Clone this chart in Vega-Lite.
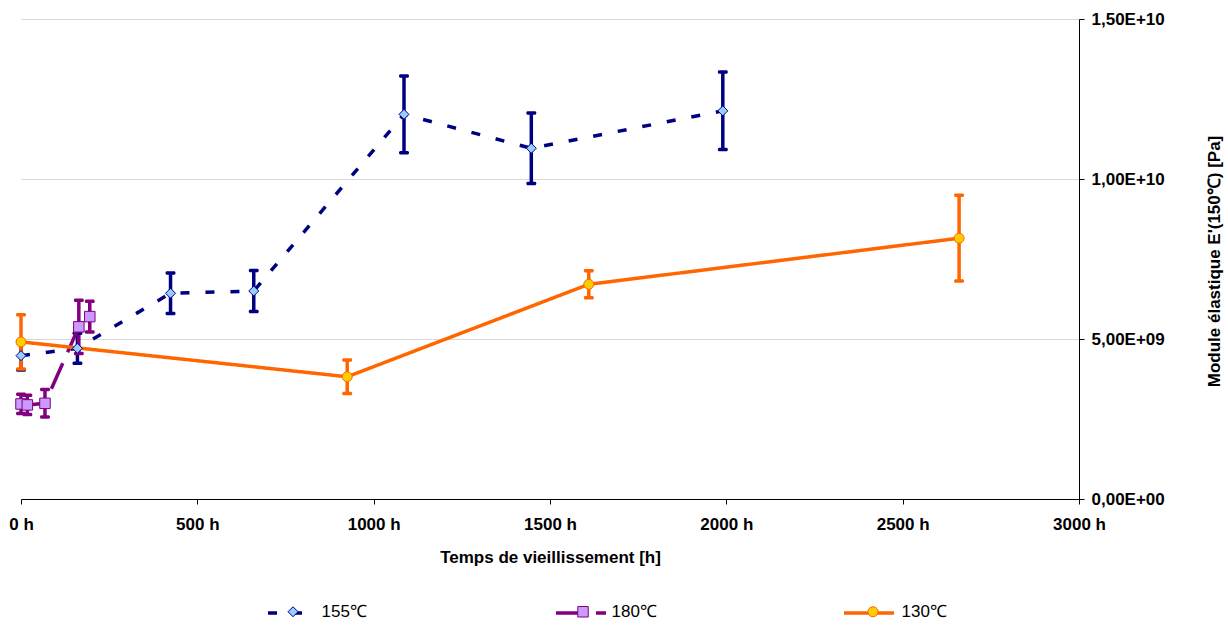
{
  "$schema": "https://vega.github.io/schema/vega-lite/v6.json",
  "width": 1058,
  "height": 480,
  "autosize": {"type": "none"},
  "padding": {"left": 21, "top": 19, "right": 149, "bottom": 127},
  "config": {"view": {"stroke": null}, "font": "Liberation Sans", "background": "white"},
  "data": {
    "values": [
      {"series": "155℃", "h": 0, "E": 4480000000, "lo": 4030000000, "hi": 4930000000},
      {"series": "155℃", "h": 160, "E": 4710000000, "lo": 4240000000, "hi": 5180000000},
      {"series": "155℃", "h": 424, "E": 6430000000, "lo": 5800000000, "hi": 7060000000},
      {"series": "155℃", "h": 660, "E": 6500000000, "lo": 5860000000, "hi": 7140000000},
      {"series": "155℃", "h": 1086, "E": 12020000000, "lo": 10820000000, "hi": 13220000000},
      {"series": "155℃", "h": 1447, "E": 10960000000, "lo": 9860000000, "hi": 12060000000},
      {"series": "155℃", "h": 1990, "E": 12130000000, "lo": 10920000000, "hi": 13340000000},
      {"series": "180℃", "h": 0, "E": 2970000000, "lo": 2670000000, "hi": 3270000000},
      {"series": "180℃", "h": 18, "E": 2940000000, "lo": 2640000000, "hi": 3240000000},
      {"series": "180℃", "h": 68, "E": 2990000000, "lo": 2560000000, "hi": 3420000000},
      {"series": "180℃", "h": 164, "E": 5380000000, "lo": 4550000000, "hi": 6210000000},
      {"series": "180℃", "h": 195, "E": 5700000000, "lo": 5220000000, "hi": 6180000000},
      {"series": "130℃", "h": 0, "E": 4910000000, "lo": 4060000000, "hi": 5760000000},
      {"series": "130℃", "h": 925, "E": 3820000000, "lo": 3300000000, "hi": 4340000000},
      {"series": "130℃", "h": 1610, "E": 6710000000, "lo": 6290000000, "hi": 7130000000},
      {"series": "130℃", "h": 2660, "E": 8150000000, "lo": 6810000000, "hi": 9490000000}
    ]
  },
  "encoding": {
    "x": {
      "field": "h", "type": "quantitative",
      "scale": {"domain": [0, 3000], "nice": false},
      "axis": {
        "orient": "bottom", "grid": false, "values": [0, 500, 1000, 1500, 2000, 2500, 3000],
        "labelExpr": "datum.value + ' h'", "labelFlush": false, "labelOverlap": false,
        "domainColor": "#000000", "tickColor": "#000000", "tickSize": 5, "labelPadding": 12,
        "labelFont": "Liberation Sans", "labelFontSize": 17, "labelFontWeight": "bold", "labelColor": "#000000",
        "title": "Temps de vieillissement [h]", "titleFont": "Liberation Sans", "titleFontSize": 17,
        "titleFontWeight": "bold", "titleColor": "#000000", "titleX": 529, "titleY": 58,
        "titleAlign": "center", "titleBaseline": "middle"
      }
    },
    "y": {
      "type": "quantitative",
      "scale": {"domain": [0, 15000000000], "nice": false, "zero": true},
      "axis": {
        "orient": "right", "grid": true, "gridColor": "#d9d9d9", "values": [0, 5000000000, 10000000000, 15000000000],
        "labelExpr": "datum.value == 0 ? '0,00E+00' : replace(format(datum.value / pow(10, floor(log(datum.value) / LN10 + 1e-9)), '.2f'), '.', ',') + 'E+' + (floor(log(datum.value) / LN10 + 1e-9) < 10 ? '0' : '') + floor(log(datum.value) / LN10 + 1e-9)",
        "domainColor": "#000000", "tickColor": "#000000", "tickSize": 5, "labelPadding": 7,
        "labelFont": "Liberation Sans", "labelFontSize": 17, "labelFontWeight": "bold", "labelColor": "#000000",
        "title": "Module élastique E'(150℃) [Pa]", "titleFont": "Liberation Sans", "titleFontSize": 17,
        "titleFontWeight": "bold", "titleColor": "#000000", "titleAngle": 270, "titleX": 135, "titleY": 242,
        "titleAlign": "center", "titleBaseline": "middle"
      }
    }
  },
  "layer": [
    {
      "mark": {"type": "rule", "strokeWidth": 3.5},
      "encoding": {
        "y": {"field": "lo", "type": "quantitative"},
        "y2": {"field": "hi"},
        "color": {"field": "series", "type": "nominal", "scale": {"domain": ["155℃", "180℃", "130℃"], "range": ["#000080", "#800080", "#FF6600"]}}
      }
    },
    {
      "mark": {"type": "tick", "orient": "horizontal", "size": 10, "thickness": 3.5, "cornerRadius": 1.5, "opacity": 1},
      "encoding": {
        "y": {"field": "lo", "type": "quantitative"},
        "color": {"field": "series", "type": "nominal", "scale": {"domain": ["155℃", "180℃", "130℃"], "range": ["#000080", "#800080", "#FF6600"]}}
      }
    },
    {
      "mark": {"type": "tick", "orient": "horizontal", "size": 10, "thickness": 3.5, "cornerRadius": 1.5, "opacity": 1},
      "encoding": {
        "y": {"field": "hi", "type": "quantitative"},
        "color": {"field": "series", "type": "nominal", "scale": {"domain": ["155℃", "180℃", "130℃"], "range": ["#000080", "#800080", "#FF6600"]}}
      }
    },
    {
      "mark": {"type": "line", "strokeWidth": 3.5},
      "encoding": {
        "y": {"field": "E", "type": "quantitative"},
        "color": {
          "field": "series", "type": "nominal",
          "scale": {"domain": ["155℃", "180℃", "130℃"], "range": ["#000080", "#800080", "#FF6600"]},
          "legend": {"orient": "none", "legendX": 245, "legendY": 567, "direction": "horizontal", "columns": 3, "columnPadding": 183, "title": null, "symbolType": "stroke", "symbolSize": 2500, "symbolStrokeWidth": 3.5, "symbolFillColor": "transparent", "labelOpacity": 0, "labelFont": "Liberation Sans", "labelFontSize": 17, "labelOffset": 0, "zindex": 1}
        },
        "strokeDash": {
          "field": "series", "type": "nominal",
          "scale": {"domain": ["155℃", "180℃", "130℃"], "range": [[9, 16], [28, 12], [1, 0]]},
          "legend": {"orient": "none", "legendX": 245, "legendY": 567, "direction": "horizontal", "columns": 3, "columnPadding": 183, "title": null, "symbolType": "stroke", "symbolSize": 2500, "symbolStrokeWidth": 3.5, "symbolFillColor": "transparent", "labelOpacity": 0, "labelFont": "Liberation Sans", "labelFontSize": 17, "labelOffset": 0, "zindex": 1}
        }
      }
    },
    {
      "mark": {"type": "point", "filled": true, "size": 2500, "strokeWidth": 1, "opacity": 1},
      "encoding": {
        "y": {"field": "E", "type": "quantitative"},
        "shape": {
          "field": "series", "type": "nominal", "sort": {"op": "count", "order": "descending"},
          "scale": {"range": ["M0,-0.2L0.2,0L0,0.2L-0.2,0Z", "M-0.21,-0.21H0.21V0.21H-0.21Z", "M-0.2,0A0.2,0.2,0,1,0,0.2,0A0.2,0.2,0,1,0,-0.2,0Z"]},
          "legend": {"orient": "none", "legendX": 245, "legendY": 567, "direction": "horizontal", "columns": 3, "columnPadding": 189, "title": null, "symbolSize": 2500, "symbolStrokeWidth": 1, "symbolOffset": 1.5, "labelFont": "Liberation Sans", "labelFontSize": 17, "labelColor": "#000000", "labelOffset": 3, "zindex": 2}
        },
        "fill": {
          "field": "series", "type": "nominal", "sort": {"op": "count", "order": "descending"},
          "scale": {"range": ["#99CCFF", "#CC99FF", "#FFCC00"]},
          "legend": {"orient": "none", "legendX": 245, "legendY": 567, "direction": "horizontal", "columns": 3, "columnPadding": 189, "title": null, "symbolSize": 2500, "symbolStrokeWidth": 1, "symbolOffset": 1.5, "labelFont": "Liberation Sans", "labelFontSize": 17, "labelColor": "#000000", "labelOffset": 3, "zindex": 2}
        },
        "stroke": {
          "field": "series", "type": "nominal", "sort": {"op": "count", "order": "descending"},
          "scale": {"range": ["#000080", "#800080", "#FF6600"]},
          "legend": {"orient": "none", "legendX": 245, "legendY": 567, "direction": "horizontal", "columns": 3, "columnPadding": 189, "title": null, "symbolSize": 2500, "symbolStrokeWidth": 1, "symbolOffset": 1.5, "labelFont": "Liberation Sans", "labelFontSize": 17, "labelColor": "#000000", "labelOffset": 3, "zindex": 2}
        }
      }
    }
  ]
}
